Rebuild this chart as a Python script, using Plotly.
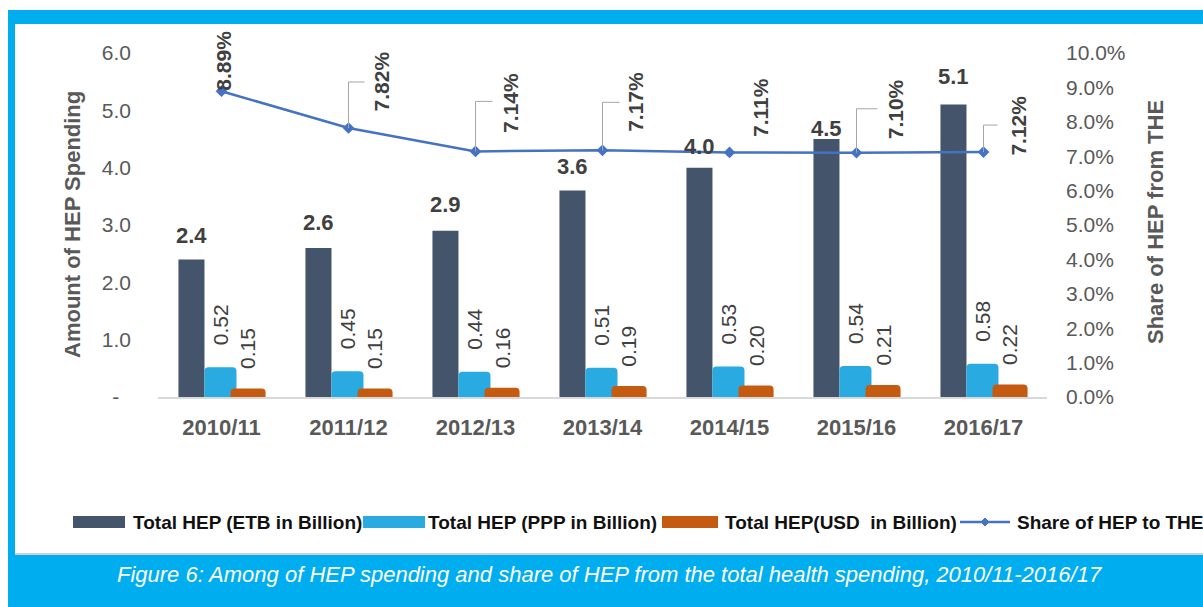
import plotly.graph_objects as go

# ---------------- data ----------------
categories = ["2010/11", "2011/12", "2012/13", "2013/14", "2014/15", "2015/16", "2016/17"]
hep_etb = [2.4, 2.6, 2.9, 3.6, 4.0, 4.5, 5.1]
hep_ppp = [0.52, 0.45, 0.44, 0.51, 0.53, 0.54, 0.58]
hep_usd = [0.15, 0.15, 0.16, 0.19, 0.20, 0.21, 0.22]
share_the = [0.0889, 0.0782, 0.0714, 0.0717, 0.0711, 0.0710, 0.0712]
series_names = ["Total HEP (ETB in Billion)", "Total HEP (PPP in Billion)",
                "Total HEP(USD  in Billion)", "Share of HEP to THE"]
left_tickvals = [0, 1, 2, 3, 4, 5, 6]
left_ticktext = ["-\u00a0\u00a0", "1.0", "2.0", "3.0", "4.0", "5.0", "6.0"]
right_tickvals = [0.0, 0.01, 0.02, 0.03, 0.04, 0.05, 0.06, 0.07, 0.08, 0.09, 0.10]
left_title = "Amount of HEP Spending"
right_title = "Share of HEP from THE"
caption = "Figure 6: Among of HEP spending and share of HEP from the total health spending, 2010/11-2016/17"

# ---------------- styles ----------------
W, H = 1203, 607
FONT = "Liberation Sans, Arial, sans-serif"
C_ETB, C_PPP, C_USD, C_LINE = "#44546A", "#29ABE2", "#C55A11", "#4472C4"
CYAN = "#00AEEF"
TXT = "#404040"
AX = "#595959"

PLOT_L, PLOT_R, PLOT_T, PLOT_B = 158, 1047, 53, 397
CAT_PX = (PLOT_R - PLOT_L) / len(categories)
Y2_PER_PX = 0.10 / (PLOT_B - PLOT_T)

def px(xp):
    return xp / W

def py(yp):
    return 1 - yp / H

bar_offsets = [-0.339, -0.134, 0.071]
bar_widths = [0.205, 0.252, 0.276]
etb_label_lift = [24, 25, 26, 24, 21, 11, 28]
line_label_shift = [(2, 30), (33, 46), (35, 48), (33, 48), (31, 45), (39, 43), (35, 26)]
leader_up = [0, 46, 50, 48, 0, 44, 27]
leader_right = [0, 16, 17, 17, 0, 21, 14]

fig = go.Figure()

bar_series = [hep_etb, hep_ppp, hep_usd]
bar_colors = [C_ETB, C_PPP, C_USD]
bar_radius = [0, 4, 4]
for k in range(3):
    fig.add_trace(go.Bar(
        x=categories, y=bar_series[k], name=series_names[k],
        offset=bar_offsets[k], width=bar_widths[k],
        marker=dict(color=bar_colors[k], line=dict(width=0), cornerradius=bar_radius[k]),
        showlegend=False, hoverinfo="skip", yaxis="y"))

fig.add_trace(go.Scatter(
    x=categories, y=share_the, name=series_names[3], yaxis="y2",
    mode="lines+markers", line=dict(color=C_LINE, width=2.5),
    marker=dict(symbol="diamond", size=9, color=C_LINE),
    showlegend=False, hoverinfo="skip"))

annotations = []
shapes = []

# frame
shapes.append(dict(type="rect", xref="paper", yref="paper", layer="below",
                   x0=px(8), x1=px(W + 10), y0=py(H + 5), y1=py(10),
                   fillcolor=CYAN, line=dict(width=0)))
shapes.append(dict(type="rect", xref="paper", yref="paper", layer="below",
                   x0=px(15), x1=px(W + 10), y0=py(555), y1=py(24),
                   fillcolor="#D0D0D0", line=dict(width=0)))
shapes.append(dict(type="rect", xref="paper", yref="paper", layer="below",
                   x0=px(15), x1=px(W + 10), y0=py(553), y1=py(24),
                   fillcolor="white", line=dict(width=0)))

# ETB labels
etb_center = bar_offsets[0] + bar_widths[0] / 2
ppp_center = bar_offsets[1] + bar_widths[1] / 2
usd_center = bar_offsets[2] + bar_widths[2] / 2
for i, v in enumerate(hep_etb):
    annotations.append(dict(x=i + etb_center, y=v, xref="x", yref="y", text=f"{v:.1f}",
                            showarrow=False, xanchor="center", yanchor="middle",
                            yshift=etb_label_lift[i],
                            font=dict(family=FONT, size=22, color=TXT, weight="bold")))
for i, v in enumerate(hep_ppp):
    annotations.append(dict(x=i + ppp_center, y=v, xref="x", yref="y", text=f"{v:.2f}",
                            showarrow=False, xanchor="center", yanchor="bottom",
                            yshift=20, textangle=-90,
                            font=dict(family=FONT, size=21, color=TXT)))
for i, v in enumerate(hep_usd):
    annotations.append(dict(x=i + usd_center, y=v, xref="x", yref="y", text=f"{v:.2f}",
                            showarrow=False, xanchor="center", yanchor="bottom",
                            yshift=17, textangle=-90,
                            font=dict(family=FONT, size=21, color=TXT)))

# line labels + leader lines
for i, v in enumerate(share_the):
    dx, dy = line_label_shift[i]
    annotations.append(dict(x=i, y=v, xref="x", yref="y2", text=f"{v*100:.2f}%",
                            showarrow=False, xanchor="center", yanchor="middle",
                            xshift=dx, yshift=dy, textangle=-90,
                            font=dict(family=FONT, size=21, color=TXT, weight="bold")))
    if leader_up[i] > 0:
        top = v + leader_up[i] * Y2_PER_PX
        shapes.append(dict(type="line", xref="x", yref="y2", x0=i, x1=i, y0=v, y1=top,
                           line=dict(color="#A6A6A6", width=1)))
        shapes.append(dict(type="line", xref="x", yref="y2", x0=i,
                           x1=i + leader_right[i] / CAT_PX, y0=top, y1=top,
                           line=dict(color="#A6A6A6", width=1)))

# axis titles
annotations.append(dict(x=px(72), y=py(225), xref="paper", yref="paper", text=left_title,
                        showarrow=False, textangle=-90, xanchor="center", yanchor="middle",
                        font=dict(family=FONT, size=22, color=AX, weight="bold")))
annotations.append(dict(x=px(1156), y=py(222), xref="paper", yref="paper", text=right_title,
                        showarrow=False, textangle=-90, xanchor="center", yanchor="middle",
                        font=dict(family=FONT, size=22, color=AX, weight="bold")))

# custom legend
leg_y = 522
swatch_x = [(73, 125), (363, 425), (662, 718)]
text_x = [131, 426, 723, 1015]
for k in range(3):
    shapes.append(dict(type="rect", xref="paper", yref="paper",
                       x0=px(swatch_x[k][0]), x1=px(swatch_x[k][1]),
                       y0=py(leg_y + 6), y1=py(leg_y - 6),
                       fillcolor=bar_colors[k], line=dict(width=0)))
shapes.append(dict(type="line", xref="paper", yref="paper", x0=px(960), x1=px(1010),
                   y0=py(leg_y), y1=py(leg_y), line=dict(color=C_LINE, width=2.5)))
shapes.append(dict(type="path", xref="paper", yref="paper",
                   path=f"M {px(981)},{py(leg_y)} L {px(985)},{py(leg_y-4)} L {px(989)},{py(leg_y)} L {px(985)},{py(leg_y+4)} Z",
                   fillcolor=C_LINE, line=dict(color=C_LINE, width=1)))
for k in range(4):
    annotations.append(dict(x=px(text_x[k]), y=py(leg_y), xref="paper", yref="paper",
                            text=series_names[k], showarrow=False, xanchor="left", yanchor="middle",
                            font=dict(family=FONT, size=19, color="#111111", weight="bold")))

# caption
annotations.append(dict(x=px(115), y=py(574), xref="paper", yref="paper", text=caption,
                        showarrow=False, xanchor="left", yanchor="middle",
                        font=dict(family=FONT, size=22, color="white", style="italic")))

fig.update_layout(
    width=W, height=H, margin=dict(l=0, r=0, t=0, b=0),
    paper_bgcolor="white", plot_bgcolor="rgba(0,0,0,0)",
    barmode="overlay", showlegend=False,
    xaxis=dict(domain=[px(PLOT_L), px(PLOT_R)], type="category", showgrid=False,
               showline=True, linecolor="#D9D9D9", linewidth=1.5, ticks="",
               tickfont=dict(family=FONT, size=22, color=AX, weight="bold"),
               ticklabelstandoff=10, zeroline=False, automargin=False),
    yaxis=dict(domain=[py(PLOT_B), py(PLOT_T)], range=[0, 6], tickvals=left_tickvals,
               ticktext=left_ticktext, showgrid=False, zeroline=False, showline=False,
               ticks="", tickfont=dict(family=FONT, size=21, color=AX),
               ticklabelstandoff=26, automargin=False),
    yaxis2=dict(overlaying="y", side="right", range=[0, 0.10], tickvals=right_tickvals,
                tickformat=".1%", showgrid=False, zeroline=False, showline=False, ticks="",
                tickfont=dict(family=FONT, size=21, color=AX),
                ticklabelstandoff=18, automargin=False),
    annotations=annotations, shapes=shapes,
)

fig.write_html("out.html", config={"displayModeBar": False},
               post_script="document.body.style.margin='0';document.body.style.overflow='hidden';")
